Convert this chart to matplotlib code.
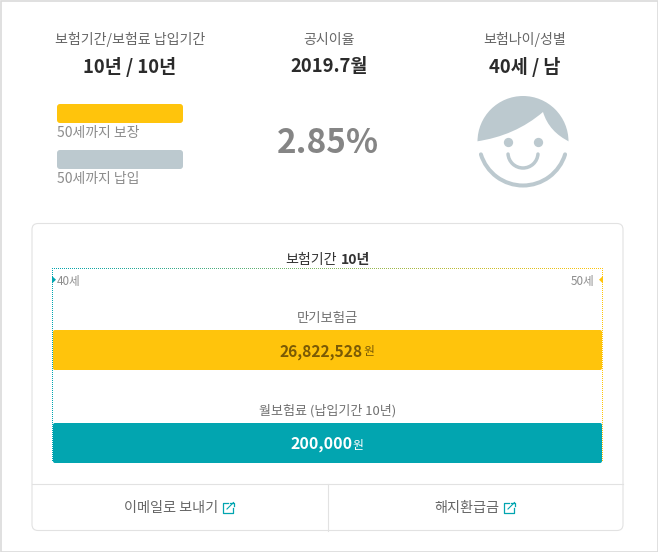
import matplotlib
matplotlib.use('Agg')
import matplotlib.pyplot as plt
from matplotlib.colors import to_rgb
from matplotlib.patches import FancyBboxPatch, Circle, PathPatch, Polygon, Arc, Rectangle
from matplotlib.path import Path

plt.rcParams['font.family'] = ['Noto Sans CJK KR', 'DejaVu Sans']

# 값
start_age = 40
end_age = 50
bar_ends = [50, 50]
mini_labels = ['50세까지 납입', '50세까지 보장']
bar_labels = ['월보험료 (납입기간 10년)', '만기보험금']
bar_values = ['200,000', '26,822,528']

YELLOW = '#ffc40c'
TEAL = '#02a5b0'
GREY = '#bcc9cf'
LINE = '#e2e2e2'

W, H = 658, 552
fig = plt.figure(figsize=(W / 100, H / 100), dpi=100)
ax = fig.add_axes([0, 0, 1, 1])
ax.set_xlim(0, W)
ax.set_ylim(H, 0)
ax.axis('off')


def txt(x, y, s, size, color='#666666', weight='normal', ha='center', zorder=10):
    # 한글 폰트가 위로 떠서 크기만큼 내림
    ax.text(x, y + 0.15 * size, s, fontsize=size, color=color, fontweight=weight,
            ha=ha, va='center', zorder=zorder)


def round_bar(end, color, x0, x1, y0, y1, radius):
    # 픽셀 위치로 축 만들고 막대는 나이 축으로 그림
    a = fig.add_axes([x0 / W, 1 - y1 / H, (x1 - x0) / W, (y1 - y0) / H])
    a.set_xlim(start_age, end_age)
    a.set_ylim(0, 1)
    a.axis('off')
    a.patch.set_alpha(0)
    bars = a.barh(0.5, end - start_age, left=start_age, height=1, color=color)
    clip = FancyBboxPatch((x0, y0), x1 - x0, y1 - y0,
                          boxstyle=f'round,pad=0,rounding_size={radius}',
                          transform=ax.transData)
    bars[0].set_clip_path(clip)
    return a


# 바깥 테두리
ax.add_patch(Rectangle((0.5, 0.5), W - 1, H - 1, fill=False, ec='#dadada', lw=1.2))

# 상단 요약
txt(130, 38, '보험기간/보험료 납입기간', 10.1)
txt(130, 65, '10년 / 10년', 13.3, '#2b2b2b', 'bold')
txt(329, 38, '공시이율', 10.1)
txt(329, 65, '2019.7월', 13.3, '#2b2b2b', 'bold')
txt(525, 38, '보험나이/성별', 10.1)
txt(525, 65, '40세 / 남', 13.3, '#2b2b2b', 'bold')
txt(328, 140, '2.85%', 24, '#858585', 'bold')

# 작은 막대
round_bar(bar_ends[1], YELLOW, 57, 183, 104, 123, 3)
round_bar(bar_ends[0], GREY, 57, 183, 150, 169, 3)
txt(57, 131.5, mini_labels[1], 10, '#8c8c8c', ha='left')
txt(57, 177.5, mini_labels[0], 10, '#8c8c8c', ha='left')

# 얼굴 아이콘
cx, cy = 523, 141.5
ax.add_patch(Circle((cx, cy), 45.5, fc=GREY, ec='none'))
mask = Path([(476, 141.5), (515, 136), (543, 112), (549, 132), (570, 142),
             (572, 195), (474, 195), (476, 141.5)],
            [Path.MOVETO, Path.CURVE3, Path.CURVE3, Path.CURVE3, Path.CURVE3,
             Path.LINETO, Path.LINETO, Path.CLOSEPOLY])
ax.add_patch(PathPatch(mask, fc='white', ec='none'))
ax.add_patch(Arc((cx, cy), 88, 88, theta1=17, theta2=163, ec=GREY, lw=2.9, capstyle='round'))
ax.plot([508, 538], [142.3, 142.3], ls='none', marker='o', ms=6.7, color=GREY, mew=0)
ax.add_patch(Arc((cx, 153), 30, 30, theta1=4, theta2=176, ec=GREY, lw=2.5, capstyle='round'))

# 카드
ax.add_patch(FancyBboxPatch((32, 223.5), 591, 307, boxstyle='round,pad=0,rounding_size=6',
                            fc='white', ec=LINE, lw=0.8))
ax.plot([32, 623], [483.5, 483.5], color=LINE, lw=0.8)
ax.plot([327.5, 327.5], [483.5, 530.5], color=LINE, lw=0.8)

txt(311.5, 258, '보험기간', 10.1, '#333333')
txt(355.5, 258, '10년', 10.1, '#333333', 'bold')

# 점선 박스 (위쪽은 청록에서 노랑으로)
c0, c1 = to_rgb(TEAL), to_rgb(YELLOW)
for px in range(52, 603, 2):
    t = (px - 52) / 550
    col = tuple(a + (b - a) * t for a, b in zip(c0, c1))
    ax.add_patch(Rectangle((px, 268), 1, 1, fc=col, ec='none', zorder=3))
for py in range(268, 462, 2):
    ax.add_patch(Rectangle((52, py), 1, 1, fc=TEAL, ec='none', zorder=3))
    ax.add_patch(Rectangle((602, py), 1, 1, fc=YELLOW, ec='none', zorder=3))
ax.add_patch(Polygon([(52, 276), (56, 279.7), (52, 283.5)], fc=TEAL, ec='none', zorder=3))
ax.add_patch(Polygon([(603, 276), (599, 279.7), (603, 283.5)], fc=YELLOW, ec='none', zorder=3))
txt(57, 280, f'{start_age}세', 8.4, '#8c8c8c', ha='left')
txt(594, 280, f'{end_age}세', 8.4, '#8c8c8c', ha='right')

# 큰 막대
round_bar(bar_ends[1], YELLOW, 53, 602, 330, 370, 2)
round_bar(bar_ends[0], TEAL, 53, 602, 423, 463, 2)
txt(327, 317, bar_labels[1], 9.6, '#707070')
txt(327.5, 409.5, bar_labels[0], 9.4, '#707070')

fig.text(321.5 / W, 1 - 351.5 / H, bar_values[1], fontsize=11.2, color='#7a5a05', fontweight='bold',
         ha='center', va='center', zorder=10)
fig.text(368.5 / W, 1 - 352 / H, '원', fontsize=8.5, color='#7a5a05', ha='center', va='center', zorder=10)
fig.text(322 / W, 1 - 444.5 / H, bar_values[0], fontsize=11.5, color='white', fontweight='bold',
         ha='center', va='center', zorder=10)
fig.text(357.5 / W, 1 - 445 / H, '원', fontsize=8.5, color='white', ha='center', va='center', zorder=10)

# 하단 버튼
txt(171, 506, '이메일로 보내기', 10.2)
txt(467, 506, '해지환급금', 10.2)
for ox in [223, 504]:
    ax.plot([ox + 5, ox, ox, ox + 10, ox + 10], [503, 503, 513, 513, 508], color=TEAL, lw=0.9)
    ax.plot([ox + 4, ox + 10.5], [509, 502.5], color=TEAL, lw=0.8)
    ax.plot([ox + 7, ox + 11, ox + 11], [502.5, 502.5, 506], color=TEAL, lw=0.9)

fig.savefig('out.png', dpi=100, facecolor='white')
